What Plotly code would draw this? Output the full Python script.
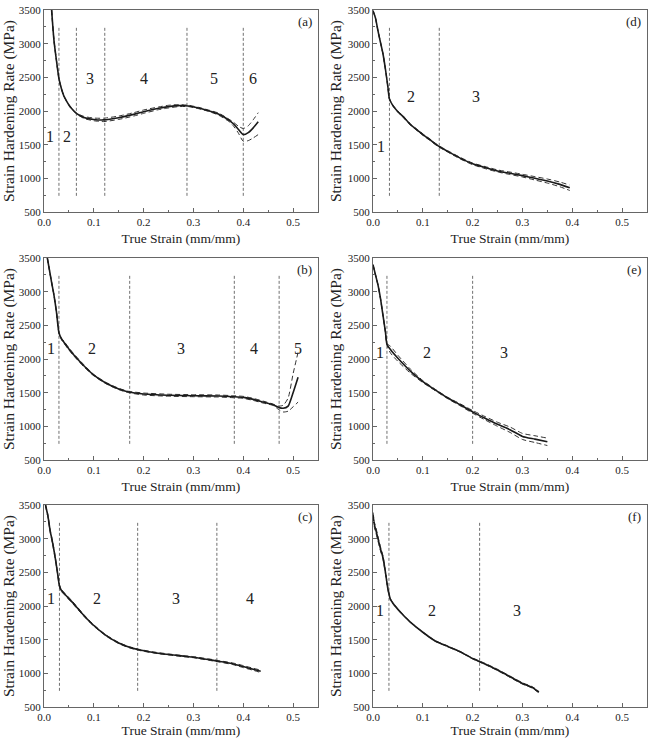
import plotly.graph_objects as go

# ---------------- data ----------------
panel_letters = ["(a)", "(b)", "(c)", "(d)", "(e)", "(f)"]

# (a)
xa = [0.0153, 0.02, 0.025, 0.03, 0.035, 0.04, 0.045, 0.05, 0.055, 0.065, 0.08, 0.1, 0.12, 0.15, 0.18, 0.2,
      0.23, 0.25, 0.27, 0.29, 0.31, 0.33, 0.35, 0.37, 0.38, 0.39, 0.40, 0.41, 0.42, 0.43]
ya = [3500, 3050, 2750, 2480, 2330, 2220, 2150, 2090, 2040, 1965, 1905, 1875, 1868, 1900, 1950, 1990,
      2040, 2065, 2080, 2075, 2045, 2005, 1955, 1870, 1810, 1730, 1650, 1680, 1750, 1840]
ua = [0, 0, 0, 0, 0, 0, 0, 0, 0, 5, 15, 20, 25, 25, 25, 25, 20, 20, 15, 10, 10, 10, 15, 15, 25, 45, 90, 100, 120, 135]
la = [0, 0, 0, 0, 0, 0, 0, 0, 0, 5, 15, 20, 25, 25, 25, 25, 20, 20, 15, 10, 10, 10, 15, 20, 30, 55, 100, 120, 150, 190]
stages_a = [0.03, 0.065, 0.122, 0.287, 0.40]
lab_x_a = [0.013, 0.047, 0.093, 0.20, 0.342, 0.42]
lab_y_a = [1620, 1620, 2480, 2480, 2480, 2480]

# (b)
xb = [0.0067, 0.015, 0.02, 0.025, 0.03, 0.035, 0.04, 0.05, 0.06, 0.08, 0.1, 0.125, 0.15, 0.17, 0.2, 0.25,
      0.3, 0.35, 0.38, 0.4, 0.42, 0.44, 0.46, 0.47, 0.48, 0.49, 0.5, 0.51]
yb = [3500, 3150, 2950, 2700, 2390, 2300, 2250, 2150, 2060, 1900, 1760, 1640, 1555, 1510, 1480, 1462,
      1455, 1450, 1440, 1430, 1400, 1360, 1320, 1285, 1268, 1300, 1500, 1730]
ub = [0, 0, 0, 0, 0, 10, 15, 15, 15, 15, 10, 10, 10, 10, 15, 15, 15, 15, 15, 15, 15, 15, 10, 15, 45, 120, 280, 370]
lb = [0, 0, 0, 0, 0, 10, 15, 15, 15, 15, 10, 10, 10, 10, 15, 15, 15, 15, 15, 15, 15, 15, 10, 30, 55, 75, 210, 370]
stages_b = [0.03, 0.172, 0.382, 0.472]
lab_x_b = [0.015, 0.097, 0.275, 0.422, 0.51]
lab_y_b = [2160, 2160, 2160, 2160, 2160]

# (c)
xc = [0.003, 0.008, 0.012, 0.017, 0.022, 0.027, 0.031, 0.035, 0.04, 0.05, 0.06, 0.08, 0.1, 0.125, 0.15,
      0.17, 0.19, 0.22, 0.25, 0.28, 0.3, 0.33, 0.35, 0.38, 0.4, 0.42, 0.435]
yc = [3500, 3330, 3130, 2950, 2740, 2500, 2300, 2230, 2190, 2110, 2030, 1860, 1710, 1560, 1450,
      1390, 1350, 1310, 1280, 1255, 1240, 1205, 1180, 1140, 1100, 1060, 1030]
uc = [15, 20, 20, 20, 20, 15, 15, 15, 15, 15, 15, 12, 10, 8, 8, 8, 8, 8, 8, 8, 8, 10, 10, 12, 15, 15, 18]
lc = [15, 20, 20, 20, 20, 15, 15, 15, 15, 15, 15, 12, 10, 8, 8, 8, 8, 8, 8, 8, 8, 10, 10, 12, 15, 15, 18]
stages_c = [0.031, 0.188, 0.347]
lab_x_c = [0.015, 0.106, 0.265, 0.414]
lab_y_c = [2110, 2110, 2110, 2110]

# (d)
xd = [0.0, 0.005, 0.01, 0.015, 0.02, 0.025, 0.03, 0.033, 0.04, 0.05, 0.06, 0.075, 0.09, 0.1, 0.115, 0.13,
      0.15, 0.175, 0.2, 0.225, 0.25, 0.275, 0.3, 0.325, 0.35, 0.375, 0.395]
yd = [3490, 3380, 3190, 3020, 2850, 2620, 2350, 2180, 2080, 1990, 1920, 1800, 1710, 1650, 1570, 1485,
      1400, 1300, 1215, 1160, 1110, 1075, 1040, 1000, 960, 910, 860]
ud = [0, 0, 5, 5, 5, 5, 5, 5, 8, 8, 10, 10, 10, 10, 10, 10, 10, 12, 12, 15, 15, 18, 20, 25, 30, 35, 40]
ld = [0, 0, 5, 5, 5, 5, 5, 5, 8, 8, 10, 10, 10, 10, 10, 10, 10, 12, 12, 15, 15, 18, 20, 25, 30, 35, 40]
stages_d = [0.033, 0.133]
lab_x_d = [0.017, 0.077, 0.206]
lab_y_d = [1480, 2210, 2210]

# (e)
xe = [0.0, 0.005, 0.01, 0.015, 0.02, 0.025, 0.028, 0.035, 0.05, 0.075, 0.1, 0.125, 0.15, 0.175, 0.2,
      0.225, 0.25, 0.275, 0.3, 0.325, 0.35]
ye = [3400, 3250, 3100, 2900, 2650, 2400, 2220, 2140, 2010, 1820, 1665, 1540, 1420, 1320, 1215,
      1120, 1030, 950, 850, 810, 770]
ue = [0, 5, 5, 5, 5, 5, 10, 50, 45, 30, 15, 10, 10, 15, 20, 25, 30, 40, 45, 50, 55]
le = [0, 5, 5, 5, 5, 5, 10, 50, 45, 30, 15, 10, 10, 15, 20, 25, 30, 40, 45, 50, 55]
stages_e = [0.028, 0.20]
lab_x_e = [0.0136, 0.109, 0.262]
lab_y_e = [2090, 2090, 2090]

# (f)
xf = [0.0, 0.003, 0.006, 0.01, 0.015, 0.02, 0.025, 0.03, 0.035, 0.04, 0.05, 0.06, 0.075, 0.1, 0.125,
      0.15, 0.175, 0.2, 0.225, 0.25, 0.275, 0.3, 0.32, 0.333]
yf = [3350, 3200, 3120, 3000, 2850, 2720, 2500, 2250, 2100, 2040, 1950, 1870, 1760, 1610, 1480,
      1400, 1320, 1220, 1140, 1050, 950, 850, 790, 720]
uf = [40, 40, 40, 35, 30, 25, 20, 15, 10, 8, 6, 5, 5, 5, 5, 5, 5, 6, 8, 10, 10, 10, 10, 10]
lf = [40, 40, 40, 35, 30, 25, 20, 15, 10, 8, 6, 5, 5, 5, 5, 5, 5, 6, 8, 10, 10, 10, 10, 10]
stages_f = [0.032, 0.214]
lab_x_f = [0.015, 0.118, 0.289]
lab_y_f = [1940, 1940, 1940]

x_ticks = [0.0, 0.1, 0.2, 0.3, 0.4, 0.5]
y_ticks = [500, 1000, 1500, 2000, 2500, 3000, 3500]
stage_line_y = [740, 3260]

panels = [
    (xa, ya, ua, la, stages_a, lab_x_a, lab_y_a),
    (xb, yb, ub, lb, stages_b, lab_x_b, lab_y_b),
    (xc, yc, uc, lc, stages_c, lab_x_c, lab_y_c),
    (xd, yd, ud, ld, stages_d, lab_x_d, lab_y_d),
    (xe, ye, ue, le, stages_e, lab_x_e, lab_y_e),
    (xf, yf, uf, lf, stages_f, lab_x_f, lab_y_f),
]

# ---------------- layout geometry (pixels) ----------------
W, H = 651, 738
col_px = [(44, 318), (373, 647)]
row_px = [(10, 212), (258, 460), (505, 707)]
cells = [(0, 0), (0, 1), (0, 2), (1, 0), (1, 1), (1, 2)]

FONT = "Liberation Serif"
INK = "#222222"
FRAME = "#666666"

fig = go.Figure()
annotations = []

for i, ((xs, ys, us, ls, stages, lx, ly), (c, r)) in enumerate(zip(panels, cells)):
    n = i + 1
    xa_name = "x" if n == 1 else f"x{n}"
    ya_name = "y" if n == 1 else f"y{n}"
    for s in stages:
        fig.add_trace(go.Scatter(x=[s, s], y=stage_line_y, mode="lines",
                                 line=dict(color="#707070", width=1, dash="3px,2px"),
                                 xaxis=xa_name, yaxis=ya_name, showlegend=False, hoverinfo="skip"))
    upper = [y + u for y, u in zip(ys, us)]
    lower = [y - l for y, l in zip(ys, ls)]
    for band in (upper, lower):
        fig.add_trace(go.Scatter(x=xs, y=band, mode="lines",
                                 line=dict(color="#333333", width=1, dash="5px,3px", shape="spline", smoothing=0.6),
                                 xaxis=xa_name, yaxis=ya_name, showlegend=False, hoverinfo="skip"))
    fig.add_trace(go.Scatter(x=xs, y=ys, mode="lines",
                             line=dict(color="#1a1a1a", width=1.6, shape="spline", smoothing=0.6),
                             xaxis=xa_name, yaxis=ya_name, showlegend=False))
    for k, (px, py) in enumerate(zip(lx, ly)):
        annotations.append(dict(x=px, y=py, xref=xa_name, yref=ya_name, text=str(k + 1),
                                showarrow=False, font=dict(family=FONT, size=16, color=INK)))
    annotations.append(dict(x=0.542, y=3335, xref=xa_name, yref=ya_name, text=panel_letters[i],
                            xanchor="right", showarrow=False, font=dict(family=FONT, size=13, color=INK)))

    x0, x1 = col_px[c]
    y0, y1 = row_px[r]
    common = dict(showline=True, linecolor=FRAME, linewidth=1, mirror=True, showgrid=False, zeroline=False,
                  ticks="inside", ticklen=4, tickcolor=FRAME, automargin=False,
                  tickfont=dict(family=FONT, size=11, color=INK))
    fig.layout[f"xaxis{'' if n == 1 else n}"] = dict(
        common, domain=[x0 / W, x1 / W], anchor=ya_name, range=[0, 0.55],
        tickvals=x_ticks, ticktext=[f"{v:.1f}" for v in x_ticks],
        minor=dict(dtick=0.05, tick0=0, ticks="inside", ticklen=2, tickcolor=FRAME),
        title=dict(text="True Strain (mm/mm)", font=dict(family=FONT, size=13.5, color=INK), standoff=6))
    fig.layout[f"yaxis{'' if n == 1 else n}"] = dict(
        common, domain=[1 - y1 / H, 1 - y0 / H], anchor=xa_name, range=[500, 3500],
        tickvals=y_ticks, ticktext=[str(v) for v in y_ticks],
        minor=dict(dtick=250, tick0=500, ticks="inside", ticklen=2, tickcolor=FRAME),
        title=dict(text="Strain Hardening Rate (MPa)", font=dict(family=FONT, size=15.5, color=INK), standoff=2))

fig.update_layout(width=W, height=H, margin=dict(l=0, r=0, t=0, b=0),
                  plot_bgcolor="white", paper_bgcolor="white", template="none",
                  annotations=annotations)
fig.write_html("out.html")
